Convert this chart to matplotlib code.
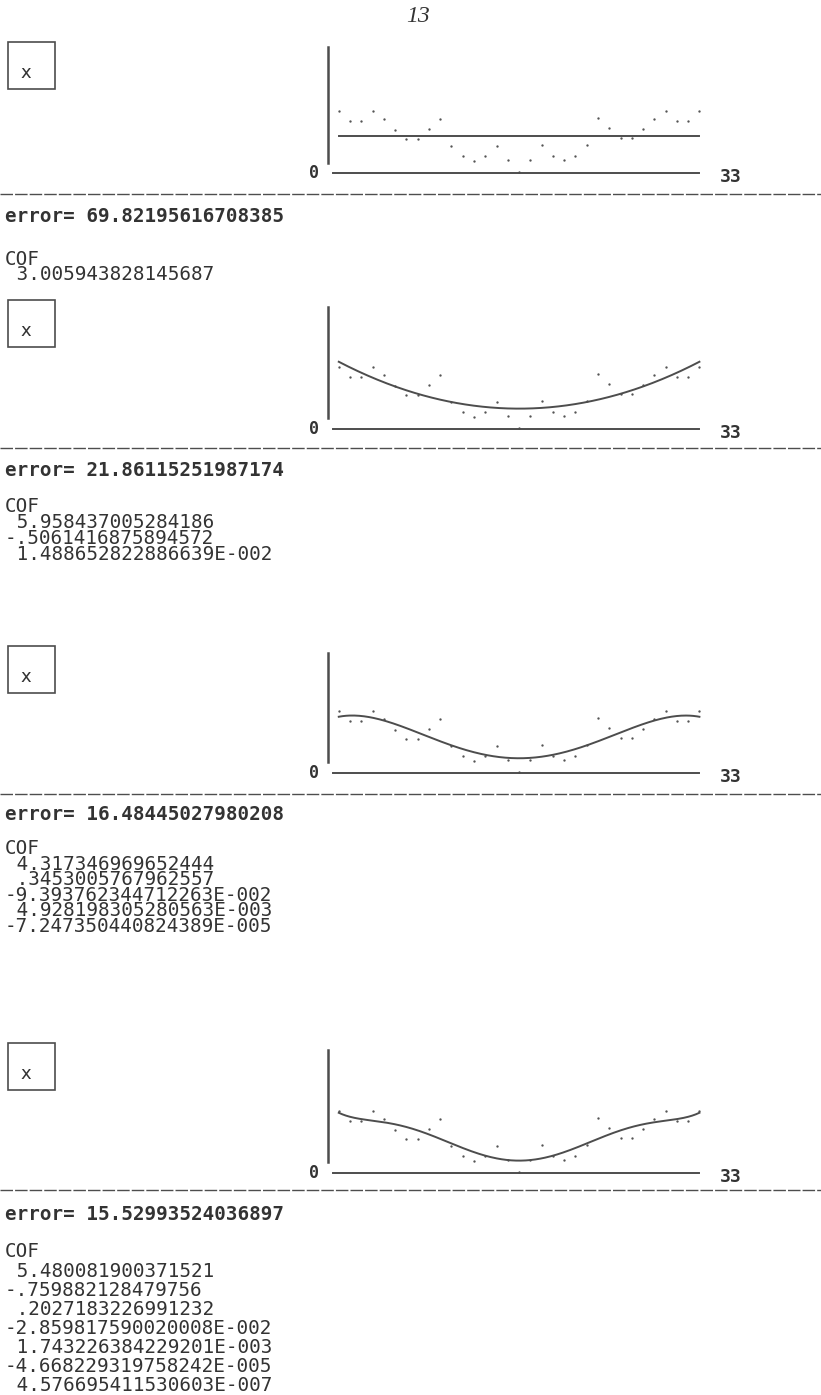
"""
Recreation of a scanned print-out page: least-squares polynomial fits
(degree 0, 2, 4, 6) of the same 33 samples, each followed by its error
and coefficient listing.
"""

import matplotlib
matplotlib.use("Agg")
import matplotlib.pyplot as plt
import numpy as np
from matplotlib.lines import Line2D
from matplotlib.patches import Rectangle

W, H = 821, 1395
INK = "#333333"
LINE = "#4d4d4d"
MONO = "DejaVu Sans Mono"
FS = 13.9

# samples x = 1..33
x_data = list(range(1, 34))
y_data = [5.07, 4.21, 4.21, 5.03, 4.42, 3.53, 2.78, 2.78, 3.55, 4.40, 2.18,
          1.35, 1.00, 1.36, 2.21, 1.02, 0.10, 1.04, 2.24, 1.40, 1.06, 1.41,
          2.26, 4.49, 3.63, 2.85, 2.86, 3.60, 4.42, 5.05, 4.19, 4.19, 5.01]

# printed fit results, lowest power first
cof_deg0 = [3.005943828145687]
cof_deg2 = [5.958437005284186, -.5061416875894572, 1.488652822886639E-002]
cof_deg4 = [4.317346969652444, .3453005767962557, -9.393762344712263E-002,
            4.928198305280563E-003, -7.247350440824389E-005]
cof_deg6 = [5.480081900371521, -.759882128479756, .2027183226991232,
            -2.859817590020008E-002, 1.743226384229201E-003,
            -4.668229319758242E-005, 4.576695411530603E-007]

cof_text = [
    [" 3.005943828145687"],
    [" 5.958437005284186", "-.5061416875894572", " 1.488652822886639E-002"],
    [" 4.317346969652444", " .3453005767962557", "-9.393762344712263E-002",
     " 4.928198305280563E-003", "-7.247350440824389E-005"],
    [" 5.480081900371521", "-.759882128479756", " .2027183226991232",
     "-2.859817590020008E-002", " 1.743226384229201E-003",
     "-4.668229319758242E-005", " 4.576695411530603E-007"],
]
errors = ["69.82195616708385", "21.86115251987174",
          "16.48445027980208", "15.52993524036897"]
fits = [cof_deg0, cof_deg2, cof_deg4, cof_deg6]

# page layout in pixels (from the top of the page)
baselines = [173, 429, 773, 1173]
axis_tops = [47, 307, 653, 1050]
axis_bots = [163, 418, 762, 1162]
box_tops = [42, 300, 646, 1043]
seps = [194, 448, 794, 1190]
err_y = [216, 471, 814, 1214]
cof_y = [258, 505, 847, 1250]      # centre of the "COF" line
cof_pitch = [15.0, 16.0, 15.8, 19.3]

X0_PX, X_SCALE = 327.5, 11.27   # px of x=0, px per unit
Y_SCALE = 12.3                   # px per unit
AX_L, AX_R = 290, 780

EM = FS * 100 / 72              # font size in px
ASC, DESC = 0.76 * EM, 0.236 * EM


def fy(py):
    return 1 - py / H


def fx(px):
    return px / W


fig = plt.figure(figsize=(W / 100, H / 100), dpi=100)
fig.patch.set_facecolor("white")

fig.text(fx(418), fy(16), "13", family="Liberation Serif", style="italic",
         fontsize=17, color=INK, ha="center", va="center")

for i, cof in enumerate(fits):
    base = baselines[i]
    top_px, bot_px = base - 135, base + 15
    ax = fig.add_axes([fx(AX_L), fy(bot_px), (AX_R - AX_L) / W, (bot_px - top_px) / H])
    ax.set_xlim((AX_L - X0_PX) / X_SCALE, (AX_R - X0_PX) / X_SCALE)
    ax.set_ylim(-15 / Y_SCALE, 135 / Y_SCALE)
    ax.patch.set_alpha(0)
    for s in ("top", "right"):
        ax.spines[s].set_visible(False)
    ax.spines["left"].set_position(("data", 0))
    ax.spines["left"].set_bounds((base - axis_bots[i]) / Y_SCALE,
                                 (base - axis_tops[i]) / Y_SCALE)
    ax.spines["bottom"].set_position(("data", 0))
    ax.spines["bottom"].set_bounds(0.5, 33)
    ax.spines["left"].set_linewidth(1.8)
    ax.spines["bottom"].set_linewidth(1.4)
    ax.spines["left"].set_color(LINE)
    ax.spines["bottom"].set_color(LINE)
    ax.set_xticks([])
    ax.set_yticks([])

    ax.plot(x_data, y_data, "o", ms=1.7, color="#555555", mec="none")
    xs = np.linspace(x_data[0], x_data[-1], 300)
    ax.plot(xs, np.polynomial.polynomial.polyval(xs, cof), color=LINE, lw=1.4)

    ax.text(-1.2, 0, "0", family=MONO, fontweight="bold", fontsize=12,
            color=INK, ha="center", va="center")
    ax.text(35.8, -0.3, "33", family=MONO, fontweight="bold", fontsize=13,
            color=INK, ha="center", va="center")

    # "x" box
    bt = box_tops[i]
    fig.add_artist(Rectangle((fx(8), fy(bt + 47)), 47 / W, 47 / H,
                             transform=fig.transFigure, fill=False,
                             ec=LINE, lw=1.2))
    fig.text(fx(26), fy(bt + 31), "x", family="DejaVu Sans", fontsize=13,
             color=INK, ha="center", va="center")

    # dashed separator
    fig.add_artist(Line2D([0, 1], [fy(seps[i])] * 2, transform=fig.transFigure,
                          color=LINE, lw=1.0, ls=(0, (9, 1.5))))

    fig.text(fx(5), fy(err_y[i]), "error= " + errors[i], family=MONO,
             fontweight="bold", fontsize=FS, color=INK, va="center")

    # COF block as one multi-line text so the tight printer spacing is kept
    block = "\n".join(["COF"] + cof_text[i])
    spacing = (cof_pitch[i] - DESC) / ASC
    fig.text(fx(5), fy(cof_y[i] - 0.39 * EM), block, family=MONO, fontsize=FS,
             color=INK, va="top", ha="left", linespacing=spacing)

fig.savefig("out.png", dpi=100, facecolor="white")
